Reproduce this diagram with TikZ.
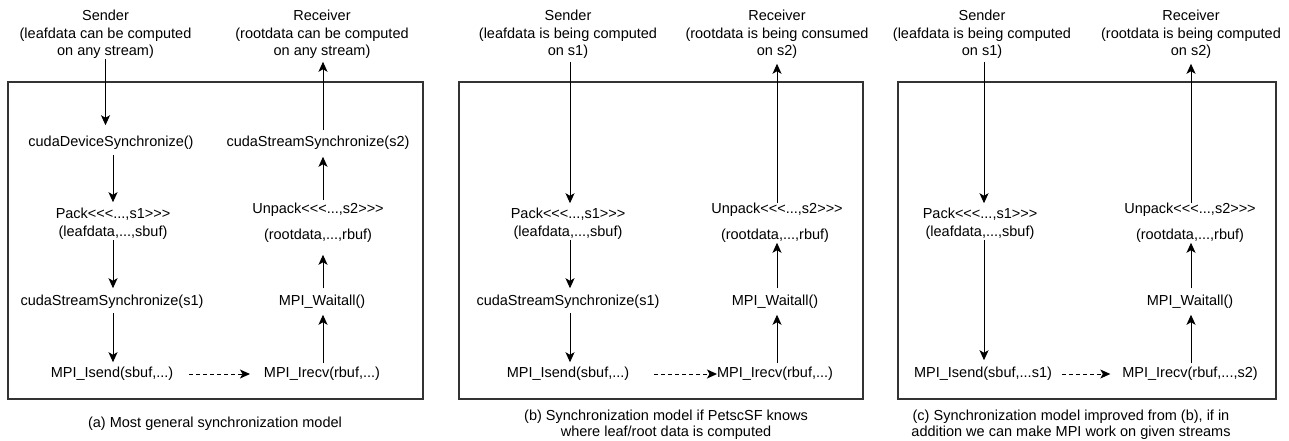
\documentclass[tikz,border=0pt]{standalone}
\usepackage{fontspec}
\setmainfont{Liberation Sans}
\usetikzlibrary{arrows.meta}
\definecolor{framegray}{HTML}{333333}
\tikzset{
  lbl/.style={inner sep=0pt, outer sep=0pt, align=center, font=\fontsize{14.5}{17.5}\selectfont},
  captxt/.style={inner sep=0pt, outer sep=0pt, align=center, font=\fontsize{14.5}{16}\selectfont},
  frame/.style={draw=framegray, line width=1.4pt},
  arr/.style={draw=black, line width=1pt, -{Stealth[length=10pt, width=9pt, inset=2.5pt]}},
  darr/.style={arr, dash pattern=on 4pt off 3pt}
}
% angle brackets without the << >> guillemet ligatures
\newcommand{\lll}{<{}<{}<}
\newcommand{\ggg}{>{}>{}>}
\begin{document}
\begin{tikzpicture}[x=1pt, y=-1pt]
\useasboundingbox (0,0) rectangle (1289,440);

% frames of the three models
\draw[frame] (8,82) rectangle (423,399);
\draw[frame] (459,82) rectangle (863,399);
\draw[frame] (898,82) rectangle (1276,399);

% ---------- (a) most general model ----------
\node[lbl] (sa) at (105.5,34.5) {Sender\\(leafdata can be computed\\on any stream)};
\node[lbl] (ra) at (322,34.5) {Receiver\\(rootdata can be computed\\on any stream)};
\node[lbl] (cdsA) at (111,143) {cudaDeviceSynchronize()};
\node[lbl] (packA) at (113,224) {Pack\lll...,s1\ggg\\[0.5pt](leafdata,...,sbuf)};
\node[lbl] (cssA) at (112,302) {cudaStreamSynchronize(s1)};
\node[lbl] (isendA) at (112,374) {MPI\_Isend(sbuf,...)};
\node[lbl] (irecvA) at (322,374) {MPI\_Irecv(rbuf,...)};
\node[lbl] (waitA) at (322,302) {MPI\_Waitall()};
\node[lbl] (rootA) at (318,236) {(rootdata,...,rbuf)};
\node[lbl] (unpackA) at (318,210) {Unpack\lll...,s2\ggg};
\node[lbl] (cssrA) at (318,143) {cudaStreamSynchronize(s2)};
\node[captxt] (capA) at (215,424) {(a) Most general synchronization model};

% column guides for the vertical connectors
\coordinate (colAl) at (packA.north);
\coordinate (colAr) at ([xshift=1pt]waitA.north);

\draw[arr, shorten >=11pt] (sa.south) -- (cdsA.north -| sa.south);
\draw[arr, shorten <=5pt, shorten >=6pt] (cdsA.south -| colAl) -- (packA.north);
\draw[arr, shorten >=7pt] (packA.south) -- (cssA.north -| colAl);
\draw[arr, shorten <=4pt, shorten >=5pt] (cssA.south -| colAl) -- (isendA.north -| colAl);
\draw[darr, shorten <=16pt, shorten >=14pt] (isendA.east) -- (irecvA.west);
\draw[arr, shorten <=4pt, shorten >=6pt] (irecvA.north -| colAr) -- (waitA.south -| colAr);
\draw[arr, shorten <=7pt, shorten >=12pt] (colAr) -- (rootA.south -| colAr);
\draw[arr, shorten <=3pt, shorten >=7pt] (unpackA.north -| colAr) -- (cssrA.south -| colAr);
\draw[arr, shorten <=6pt, shorten >=3pt] (cssrA.north -| colAr) -- (ra.south -| colAr);

% ---------- (b) streams known to PetscSF ----------
\node[lbl] (sb) at (568,34.5) {Sender\\(leafdata is being computed\\on s1)};
\node[lbl] (rb) at (777,34.5) {Receiver\\(rootdata is being consumed\\on s2)};
\node[lbl] (packB) at (568,224) {Pack\lll...,s1\ggg\\[0.5pt](leafdata,...,sbuf)};
\node[lbl] (cssB) at (568,302) {cudaStreamSynchronize(s1)};
\node[lbl] (isendB) at (568,374) {MPI\_Isend(sbuf,...)};
\node[lbl] (irecvB) at (775,374) {MPI\_Irecv(rbuf,...)};
\node[lbl] (waitB) at (775,302) {MPI\_Waitall()};
\node[lbl] (rootB) at (775,236) {(rootdata,...,rbuf)};
\node[lbl] (unpackB) at (777,210) {Unpack\lll...,s2\ggg};
\node[captxt] (capB) at (666,425) {(b) Synchronization model if PetscSF knows\\where leaf/root data is computed};

\coordinate (colBl) at ([xshift=2pt]packB.north);
\coordinate (colBr) at ([xshift=2pt]waitB.north);

\draw[arr, shorten <=3pt, shorten >=5pt] (sb.south -| colBl) -- (colBl);
\draw[arr, shorten >=7pt] (packB.south -| colBl) -- (cssB.north -| colBl);
\draw[arr, shorten <=4pt, shorten >=5pt] (cssB.south -| colBl) -- (isendB.north -| colBl);
\draw[darr, shorten <=25pt] (isendB.east) -- (irecvB.west);
\draw[arr, shorten <=4pt, shorten >=6pt] (irecvB.north -| colBr) -- (waitB.south -| colBr);
\draw[arr, shorten <=7pt] (colBr) -- (rootB.south -| colBr);
\draw[arr, shorten >=5pt] (unpackB.north) -- (rb.south -| unpackB.north);

% ---------- (c) MPI working on given streams ----------
\node[lbl] (sc) at (982,34.5) {Sender\\(leafdata is being computed\\on s1)};
\node[lbl] (rc) at (1191,34.5) {Receiver\\(rootdata is being computed\\on s2)};
\node[lbl] (packC) at (980,224) {Pack\lll...,s1\ggg\\[0.5pt](leafdata,...,sbuf)};
\node[lbl] (isendC) at (983,374) {MPI\_Isend(sbuf,...s1)};
\node[lbl] (irecvC) at (1190,374) {MPI\_Irecv(rbuf,...,s2)};
\node[lbl] (waitC) at (1190,302) {MPI\_Waitall()};
\node[lbl] (rootC) at (1190,236) {(rootdata,...,rbuf)};
\node[lbl] (unpackC) at (1190,210) {Unpack\lll...,s2\ggg};
\node[captxt] (capC) at (1071,425) {(c) Synchronization model improved from (b), if in\\addition we can make MPI work on given streams};

\coordinate (colCl) at ([xshift=2pt]sc.south);
\coordinate (colCr) at ([xshift=1pt]waitC.north);

\draw[arr, shorten <=3pt, shorten >=5pt] (colCl) -- (packC.north -| colCl);
\draw[arr, shorten >=7pt] (packC.south -| colCl) -- (isendC.north -| colCl);
\draw[darr, shorten <=10pt, shorten >=12pt] (isendC.east) -- (irecvC.west);
\draw[arr, shorten <=4pt, shorten >=6pt] (irecvC.north -| colCr) -- (waitC.south -| colCr);
\draw[arr, shorten <=7pt] (colCr) -- (rootC.south -| colCr);
\draw[arr, shorten >=5pt] (unpackC.north -| colCr) -- (rc.south -| colCr);
\end{tikzpicture}
\end{document}
